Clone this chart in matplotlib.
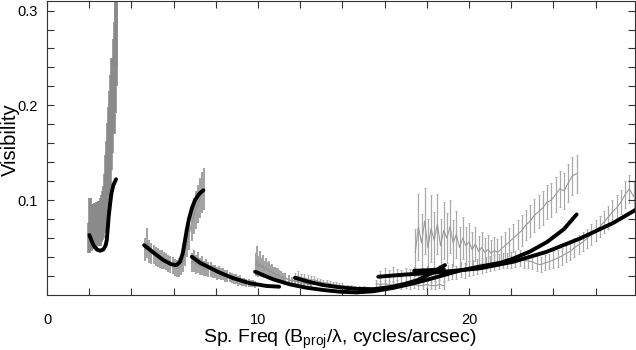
import numpy as np
import matplotlib
matplotlib.use('Agg')
import matplotlib.pyplot as plt

plt.rcParams['font.family'] = ['Liberation Sans', 'DejaVu Sans']
plt.rcParams['mathtext.fontset'] = 'custom'
plt.rcParams['mathtext.rm'] = 'Liberation Sans'
plt.rcParams['mathtext.default'] = 'regular'

# 数据段（灰色，带误差棒）
xa = [2.00, 2.05, 2.10, 2.15, 2.20, 2.25, 2.30, 2.35, 2.40, 2.45, 2.50, 2.55, 2.60, 2.65,
      2.70, 2.75, 2.80, 2.85, 2.90, 2.95, 3.00, 3.05, 3.10, 3.15, 3.20, 3.25, 3.28]
ya = [0.060, 0.078, 0.068, 0.074, 0.070, 0.075, 0.071, 0.076, 0.073, 0.077, 0.074, 0.079, 0.082, 0.085,
      0.090, 0.098, 0.110, 0.122, 0.136, 0.150, 0.165, 0.182, 0.200, 0.220, 0.240, 0.265, 0.285]
ea = [0.016, 0.024, 0.022, 0.022, 0.021, 0.022, 0.021, 0.022, 0.021, 0.022, 0.022, 0.023, 0.024, 0.025,
      0.025, 0.030, 0.038, 0.040, 0.045, 0.048, 0.050, 0.050, 0.050, 0.050, 0.048, 0.045, 0.045]

xb = [4.65, 4.75, 4.85, 4.95, 5.05, 5.15, 5.25, 5.35, 5.45, 5.55, 5.65, 5.75, 5.85, 5.95, 6.05,
      6.15, 6.25, 6.35, 6.45, 6.55, 6.65, 6.75, 6.85, 6.95, 7.05, 7.15, 7.25, 7.35, 7.42]
yb = [0.048, 0.055, 0.046, 0.044, 0.043, 0.041, 0.040, 0.038, 0.037, 0.036, 0.035, 0.033, 0.032, 0.031, 0.029,
      0.028, 0.029, 0.031, 0.036, 0.045, 0.056, 0.066, 0.075, 0.083, 0.090, 0.096, 0.102, 0.108, 0.112]
eb = [0.012, 0.016, 0.012, 0.011, 0.010, 0.010, 0.010, 0.010, 0.010, 0.009, 0.009, 0.009, 0.009, 0.009, 0.009,
      0.009, 0.010, 0.010, 0.012, 0.014, 0.016, 0.018, 0.018, 0.019, 0.020, 0.020, 0.021, 0.022, 0.022]

xc = [6.85, 6.95, 7.05, 7.15, 7.25, 7.35, 7.45, 7.55, 7.65, 7.75, 7.85, 7.95, 8.05, 8.15, 8.25, 8.35,
      8.45, 8.55, 8.65, 8.75, 8.85, 8.95, 9.05, 9.15, 9.25, 9.35, 9.45, 9.55, 9.65, 9.75, 9.85]
yc = [0.034, 0.036, 0.032, 0.034, 0.030, 0.031, 0.028, 0.029, 0.027, 0.027, 0.025, 0.025, 0.023, 0.024, 0.022, 0.022,
      0.020, 0.020, 0.019, 0.018, 0.017, 0.017, 0.015, 0.016, 0.014, 0.014, 0.013, 0.013, 0.012, 0.012, 0.011]
ec = [0.010, 0.012, 0.010, 0.011, 0.009, 0.010, 0.008, 0.009, 0.008, 0.008, 0.007, 0.007, 0.007, 0.007, 0.006, 0.006,
      0.006, 0.006, 0.005, 0.005, 0.005, 0.005, 0.005, 0.005, 0.004, 0.004, 0.004, 0.004, 0.004, 0.004, 0.004]

xd = [9.88, 9.95, 10.02, 10.09, 10.16, 10.23, 10.30, 10.37, 10.44, 10.51, 10.58, 10.65, 10.72, 10.79,
      10.86, 10.93, 11.00, 11.10, 11.20, 11.30, 11.45, 11.60, 11.75, 11.90, 12.05, 12.20, 12.35, 12.50]
yd = [0.032, 0.036, 0.030, 0.033, 0.029, 0.031, 0.027, 0.029, 0.026, 0.027, 0.024, 0.025, 0.023, 0.023,
      0.021, 0.022, 0.020, 0.019, 0.018, 0.018, 0.016, 0.015, 0.015, 0.014, 0.013, 0.012, 0.012, 0.011]
ed = [0.012, 0.016, 0.011, 0.013, 0.010, 0.011, 0.009, 0.010, 0.009, 0.009, 0.008, 0.008, 0.007, 0.007,
      0.007, 0.007, 0.006, 0.006, 0.005, 0.005, 0.005, 0.004, 0.004, 0.004, 0.004, 0.003, 0.003, 0.003]

xe = [11.75, 11.9, 12.05, 12.2, 12.35, 12.5, 12.65, 12.8, 12.95, 13.1, 13.25, 13.4, 13.55,
      13.7, 13.85, 14.0, 14.2, 14.4, 14.6, 14.8, 15.0, 15.2, 15.4, 15.6, 15.8]
ye = [0.019, 0.020, 0.018, 0.018, 0.017, 0.016, 0.016, 0.015, 0.014, 0.013, 0.013, 0.012, 0.011,
      0.011, 0.010, 0.010, 0.009, 0.009, 0.008, 0.008, 0.008, 0.007, 0.007, 0.007, 0.007]
ee = [0.004, 0.005, 0.004, 0.004, 0.004, 0.004, 0.004, 0.003, 0.003, 0.003, 0.003, 0.003, 0.003,
      0.003, 0.003, 0.003, 0.002, 0.002, 0.002, 0.002, 0.002, 0.002, 0.002, 0.002, 0.002]

xf = [15.6, 15.8, 16.0, 16.2, 16.4, 16.6, 16.8, 17.0, 17.2, 17.4, 17.6, 17.8, 18.0, 18.2, 18.4, 18.6, 18.8]
yf = [0.012, 0.011, 0.012, 0.011, 0.011, 0.012, 0.010, 0.011, 0.010, 0.011, 0.010, 0.010, 0.011, 0.010, 0.010, 0.011, 0.010]
ef = [0.004, 0.004, 0.004, 0.004, 0.004, 0.004, 0.004, 0.004, 0.004, 0.004, 0.004, 0.004, 0.004, 0.004, 0.004, 0.004, 0.004]

xg = [17.45, 17.6, 17.75, 17.9, 18.05, 18.2, 18.35, 18.5, 18.65, 18.8, 18.95, 19.1, 19.25, 19.4, 19.55, 19.7,
      19.85, 20.0, 20.15, 20.3, 20.45, 20.6, 20.75, 20.9, 21.05, 21.2, 21.35, 21.5, 21.7, 21.9, 22.1, 22.3,
      22.5, 22.7, 22.9, 23.1, 23.3, 23.5, 23.7, 23.9, 24.1, 24.3, 24.5, 24.7, 24.9, 25.1]
yg = [0.045, 0.072, 0.055, 0.078, 0.050, 0.070, 0.058, 0.075, 0.052, 0.068, 0.060, 0.072, 0.055, 0.064, 0.050, 0.060,
      0.052, 0.056, 0.048, 0.054, 0.046, 0.050, 0.045, 0.048, 0.044, 0.047, 0.045, 0.048, 0.052, 0.056, 0.060, 0.064,
      0.068, 0.074, 0.078, 0.084, 0.088, 0.092, 0.098, 0.100, 0.106, 0.112, 0.110, 0.118, 0.126, 0.128]
eg = [0.025, 0.035, 0.030, 0.035, 0.030, 0.035, 0.030, 0.032, 0.028, 0.030, 0.026, 0.028, 0.024, 0.025, 0.022, 0.022,
      0.020, 0.020, 0.018, 0.018, 0.016, 0.016, 0.015, 0.015, 0.014, 0.014, 0.014, 0.014, 0.014, 0.015, 0.015, 0.015,
      0.016, 0.016, 0.017, 0.017, 0.017, 0.018, 0.018, 0.018, 0.018, 0.019, 0.019, 0.020, 0.020, 0.020]

xh = [15.8, 16.0, 16.2, 16.4, 16.6, 16.8, 17.0, 17.2, 17.4, 17.6, 17.8, 18.0, 18.2, 18.4, 18.6, 18.8,
      19.0, 19.2, 19.4, 19.6, 19.8, 20.0, 20.2, 20.4, 20.6, 20.8, 21.0, 21.2, 21.4, 21.6, 21.8, 22.0,
      22.2, 22.4, 22.6, 22.8, 23.0, 23.2, 23.4, 23.6, 23.8, 24.0, 24.2, 24.4, 24.6, 24.8, 25.0, 25.2,
      25.4, 25.6, 25.8, 26.0, 26.2, 26.4, 26.6, 26.8, 27.0, 27.2, 27.4, 27.6, 27.8]
yh = [0.018, 0.021, 0.019, 0.022, 0.020, 0.019, 0.021, 0.020, 0.022, 0.020, 0.021, 0.023, 0.021, 0.022, 0.024, 0.022,
      0.024, 0.025, 0.024, 0.027, 0.026, 0.028, 0.029, 0.030, 0.031, 0.032, 0.033, 0.034, 0.035, 0.036, 0.036, 0.037,
      0.038, 0.039, 0.037, 0.036, 0.035, 0.033, 0.032, 0.034, 0.035, 0.037, 0.039, 0.041, 0.044, 0.046, 0.050, 0.053,
      0.056, 0.060, 0.064, 0.068, 0.072, 0.077, 0.082, 0.088, 0.092, 0.098, 0.106, 0.112, 0.104]
eh = [0.007, 0.008, 0.007, 0.008, 0.007, 0.007, 0.008, 0.007, 0.008, 0.007, 0.007, 0.008, 0.007, 0.007, 0.008, 0.007,
      0.008, 0.008, 0.007, 0.008, 0.008, 0.008, 0.008, 0.008, 0.008, 0.008, 0.008, 0.008, 0.008, 0.008, 0.008, 0.008,
      0.008, 0.008, 0.008, 0.008, 0.008, 0.008, 0.008, 0.008, 0.008, 0.009, 0.009, 0.009, 0.009, 0.009, 0.010, 0.010,
      0.010, 0.010, 0.011, 0.011, 0.011, 0.012, 0.012, 0.012, 0.013, 0.013, 0.014, 0.015, 0.015]

# 模型曲线（黑色粗线）
m1x = [2.006, 2.196, 2.354, 2.512, 2.67, 2.78, 2.83, 2.87, 2.92, 2.99, 3.05, 3.14, 3.27]
m1y = [0.0632, 0.0526, 0.0481, 0.0467, 0.0481, 0.0526, 0.0579, 0.0684, 0.0825, 0.0965, 0.107, 0.1158, 0.1221]
m2x = [4.6, 5.04, 5.51, 5.91, 6.14, 6.30, 6.43, 6.54, 6.62, 6.73, 6.86, 7.01, 7.22, 7.41]
m2y = [0.0526, 0.0449, 0.0368, 0.0323, 0.0316, 0.0351, 0.0439, 0.0579, 0.0684, 0.0807, 0.0912, 0.100, 0.107, 0.1105]
m3x = [6.86, 7.25, 7.7, 8.2, 8.8, 9.6, 10.4, 11.0]
m3y = [0.0404, 0.0340, 0.0290, 0.0235, 0.0180, 0.0125, 0.0096, 0.0088]
m4x = [9.86, 10.73, 11.52, 12.31, 13.1, 13.89, 14.68, 15.47, 16.4, 17.2, 18.0, 18.8, 19.6,
       20.5, 21.5, 22.1, 22.9, 23.7, 24.5, 25.1]
m4y = [0.0246, 0.0165, 0.0112, 0.0077, 0.0053, 0.0035, 0.0028, 0.0040, 0.0075, 0.0115, 0.0160, 0.0210, 0.0260,
       0.0300, 0.0340, 0.0385, 0.0460, 0.0560, 0.0695, 0.0850]
m5x = [11.75, 12.4, 13.1, 13.89, 14.68, 15.47, 16.4, 17.0, 17.6, 18.2, 18.86]
m5y = [0.0182, 0.0140, 0.0105, 0.0081, 0.0065, 0.0062, 0.0088, 0.0120, 0.0160, 0.0230, 0.0316]
m6x = [15.7, 16.9, 18.5, 19.6, 20.5, 22.1, 23.68, 25.26, 26.84, 27.87]
m6y = [0.0193, 0.0215, 0.0240, 0.0262, 0.0281, 0.0351, 0.0456, 0.0596, 0.0761, 0.0895]
m7x = [17.4, 18.1, 18.8]
m7y = [0.0256, 0.0262, 0.0272]

fig = plt.figure(figsize=(6.36, 3.5), dpi=100)
ax = fig.add_axes([0.074, 0.157, 0.9245, 0.84])

# 密集段用粗误差棒，看起来像灰色带
ax.errorbar(xa, ya, yerr=ea, fmt='-', color='#8a8a8a', ecolor='#8a8a8a', lw=1.5, elinewidth=2.6, capsize=0, zorder=1)
for x, y, e in [(xb, yb, eb), (xc, yc, ec), (xd, yd, ed)]:
    ax.errorbar(x, y, yerr=e, fmt='-', color='#959595', ecolor='#a2a2a2', lw=1.0, elinewidth=1.4,
                capsize=0, zorder=1)
for x, y, e in [(xe, ye, ee), (xf, yf, ef), (xg, yg, eg), (xh, yh, eh)]:
    ax.errorbar(x, y, yerr=e, fmt='-', color='#9a9a9a', ecolor='#aaaaaa', lw=0.8, elinewidth=0.9,
                capsize=1, capthick=0.6, zorder=1)

for x, y in [(m1x, m1y), (m2x, m2y), (m3x, m3y), (m4x, m4y), (m5x, m5y), (m6x, m6y), (m7x, m7y)]:
    ax.plot(x, y, color='black', lw=2.8, solid_capstyle='round', solid_joinstyle='round', zorder=3)

ax.set_xlim(0, 27.87)
ax.set_ylim(0, 0.31)
ax.set_xticks([0, 10, 20])
ax.set_xticks(np.arange(0, 28, 2), minor=True)
ax.set_yticks([0.1, 0.2, 0.3])
ax.set_yticks(np.arange(0.02, 0.31, 0.02), minor=True)
ax.set_yticklabels(['0.1', '0.2', '0.3'])
ax.tick_params(which='both', direction='in', top=True, right=True, length=5, width=0.8, color='#333333')
ax.tick_params(axis='x', which='major', pad=13, labelsize=10.5)
ax.tick_params(axis='y', which='major', pad=6.5, labelsize=10.5)
for s in ax.spines.values():
    s.set_color('#333333')
    s.set_linewidth(0.8)

ax.set_xlabel(r'Sp. Freq (B$_{proj}$/λ, cycles/arcsec)', fontsize=14)
ax.set_ylabel('Visibility', fontsize=14.5)
ax.xaxis.set_label_coords(0.498, -0.11)
ax.yaxis.set_label_coords(-0.046, 0.53)

plt.savefig('out.png', dpi=100)
